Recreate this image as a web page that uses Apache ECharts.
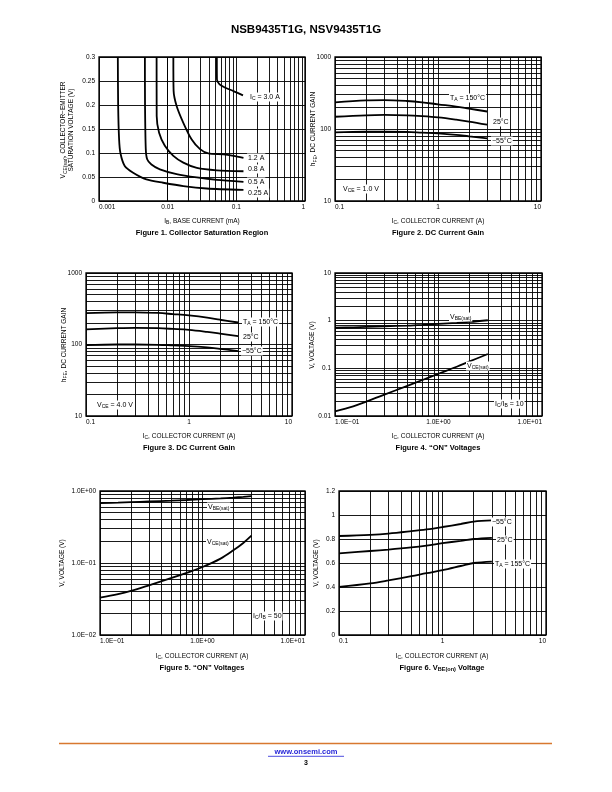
<!DOCTYPE html>
<html><head><meta charset="utf-8">
<script src="https://cdn.jsdelivr.net/npm/echarts@6/dist/echarts.min.js"></script>
<style>html,body{margin:0;padding:0;background:#fff}#c{width:612px;height:792px}</style>
</head><body><div id="c"></div>
<script>
// ---------- Figure 1: Collector Saturation Region (IB mA vs VCE V) ----------
const f1_x_025 = [0.00188, 0.0019, 0.00196, 0.00205, 0.00237, 0.00314, 0.0049, 0.0086, 0.0169, 0.037, 0.127];
const f1_y_025 = [0.3, 0.2, 0.13, 0.1, 0.073, 0.059, 0.045, 0.038, 0.031, 0.026, 0.023];
const f1_x_05 = [0.00466, 0.00468, 0.0048, 0.00503, 0.0058, 0.0077, 0.0135, 0.0266, 0.052, 0.127];
const f1_y_05 = [0.3, 0.2, 0.108, 0.087, 0.076, 0.066, 0.056, 0.049, 0.044, 0.040];
const f1_x_08 = [0.0069, 0.00692, 0.0075, 0.0091, 0.0121, 0.0169, 0.0266, 0.052, 0.127];
const f1_y_08 = [0.3, 0.177, 0.142, 0.115, 0.094, 0.08, 0.069, 0.064, 0.062];
const f1_x_12 = [0.0121, 0.0122, 0.0135, 0.0169, 0.0224, 0.0296, 0.039, 0.065, 0.091, 0.127];
const f1_y_12 = [0.3, 0.23, 0.198, 0.163, 0.128, 0.108, 0.099, 0.097, 0.094, 0.09];
const f1_x_30 = [0.052, 0.0522, 0.057, 0.069, 0.091, 0.125];
const f1_y_30 = [0.3, 0.253, 0.243, 0.236, 0.229, 0.22];
const f1_xticks = ['0.001', '0.01', '0.1', '1'];
const f1_yticks = ['0', '0.05', '0.1', '0.15', '0.2', '0.25', '0.3'];

// ---------- Figure 2: DC Current Gain, VCE = 1.0 V ----------
const f2_ic = [0.1, 0.2, 0.3, 0.5, 0.7, 1, 1.5, 2, 3];
const f2_h150 = [235, 250, 252, 245, 235, 220, 205, 192, 175];
const f2_h25 = [148, 155, 157, 155, 151, 145, 135, 127, 115];
const f2_hm55 = [90, 92, 92, 91, 89, 87, 83, 79, 74];
const f2_xticks = ['0.1', '1', '10'];
const f2_yticks = ['10', '100', '1000'];

// ---------- Figure 3: DC Current Gain, VCE = 4.0 V ----------
const f3_ic = [0.1, 0.2, 0.3, 0.5, 0.7, 1, 1.5, 2, 3];
const f3_h150 = [275, 281, 282, 276, 266, 255, 238, 222, 203];
const f3_h25 = [163, 169, 171, 169, 165, 160, 150, 142, 131];
const f3_hm55 = [98, 100, 100, 99, 97, 95, 91, 87, 81];
const f3_xticks = ['0.1', '1', '10'];
const f3_yticks = ['10', '100', '1000'];

// ---------- Figure 4: "ON" Voltages, IC/IB = 10 ----------
const f4_ic = [0.1, 0.15, 0.2, 0.3, 0.5, 0.7, 1, 1.5, 2, 3];
const f4_vbe = [0.71, 0.725, 0.74, 0.76, 0.79, 0.82, 0.86, 0.9, 0.94, 1.02];
const f4_vce = [0.0125, 0.016, 0.02, 0.028, 0.043, 0.057, 0.077, 0.108, 0.14, 0.2];
const f4_xticks = ['1.0E\u221201', '1.0E+00', '1.0E+01'];
const f4_yticks = ['0.01', '0.1', '1', '10'];

// ---------- Figure 5: "ON" Voltages, IC/IB = 50 ----------
const f5_ic = [0.1, 0.15, 0.2, 0.3, 0.5, 0.7, 1, 1.5, 2, 2.5, 3];
const f5_vbe = [0.68, 0.69, 0.70, 0.715, 0.735, 0.75, 0.77, 0.79, 0.81, 0.83, 0.85];
const f5_vce = [0.033, 0.037, 0.041, 0.049, 0.062, 0.073, 0.088, 0.115, 0.15, 0.19, 0.24];
const f5_xticks = ['1.0E\u221201', '1.0E+00', '1.0E+01'];
const f5_yticks = ['1.0E\u221202', '1.0E\u221201', '1.0E+00'];

// ---------- Figure 6: VBE(on) Voltage ----------
const f6_ic = [0.1, 0.2, 0.3, 0.5, 0.7, 1, 1.5, 2, 3];
const f6_vm55 = [0.825, 0.835, 0.845, 0.865, 0.88, 0.9, 0.925, 0.945, 0.955];
const f6_v25 = [0.68, 0.70, 0.712, 0.73, 0.745, 0.765, 0.785, 0.80, 0.81];
const f6_v155 = [0.40, 0.43, 0.455, 0.49, 0.515, 0.54, 0.575, 0.60, 0.612];
const f6_xticks = ['0.1', '1', '10'];
const f6_yticks = ['0', '0.2', '0.4', '0.6', '0.8', '1', '1.2'];

const minorMult = [2, 3, 4, 5, 6, 7, 8, 9];

// ---------------------------------------------------------------
const FF = '"Liberation Sans", Arial, Helvetica, sans-serif';
const zip = (xs, ys) => xs.map((x, i) => [x, ys[i]]);
const logMinors = (e0, e1) => { const r = []; for (let e = e0; e < e1; e++) minorMult.forEach(m => r.push(+(m * Math.pow(10, e)).toPrecision(6))); return r; };

const grids = [
  { left: 99, top: 57, width: 206, height: 144 },
  { left: 335, top: 57, width: 206, height: 144 },
  { left: 86, top: 273, width: 206, height: 143 },
  { left: 335, top: 273, width: 207, height: 143 },
  { left: 100, top: 491, width: 205, height: 144 },
  { left: 339, top: 491, width: 207, height: 144 }
].map(g => Object.assign({ show: true, borderColor: '#000', borderWidth: 1.3, backgroundColor: 'transparent' }, g));

const gridLine = { show: true, lineStyle: { color: '#000', width: 0.9 } };
const lbl = { color: '#000', fontFamily: FF, fontSize: 6.5 };
function xLog(i, min, max, ticks) {
  const e0 = Math.round(Math.log10(min));
  return { gridIndex: i, type: 'log', logBase: 10, min, max,
    axisLine: { show: false }, axisTick: { show: false }, splitLine: gridLine,
    axisLabel: Object.assign({ margin: 3, alignMinLabel: 'left', alignMaxLabel: 'right',
      formatter: v => ticks[Math.round(Math.log10(v)) - e0] }, lbl) };
}
function yLog(i, min, max, ticks) {
  const e0 = Math.round(Math.log10(min));
  return { gridIndex: i, type: 'log', logBase: 10, min, max,
    axisLine: { show: false }, axisTick: { show: false }, splitLine: gridLine,
    axisLabel: Object.assign({ margin: 4, formatter: v => ticks[Math.round(Math.log10(v)) - e0] }, lbl) };
}
function yLin(i, min, max, interval, ticks) {
  return { gridIndex: i, type: 'value', min, max, interval,
    axisLine: { show: false }, axisTick: { show: false }, splitLine: gridLine,
    axisLabel: Object.assign({ margin: 4, formatter: (v, idx) => ticks[Math.round((v - min) / interval)] }, lbl) };
}

const xAxes = [
  xLog(0, 0.001, 1, f1_xticks),
  xLog(1, 0.1, 10, f2_xticks),
  xLog(2, 0.1, 10, f3_xticks),
  xLog(3, 0.1, 10, f4_xticks),
  xLog(4, 0.1, 10, f5_xticks),
  xLog(5, 0.1, 10, f6_xticks)
];
const yAxes = [
  yLin(0, 0, 0.3, 0.05, f1_yticks),
  yLog(1, 10, 1000, f2_yticks),
  yLog(2, 10, 1000, f3_yticks),
  yLog(3, 0.01, 10, f4_yticks),
  yLog(4, 0.01, 1, f5_yticks),
  yLin(5, 0, 1.2, 0.2, f6_yticks)
];

// minor grid lines (log decades) per grid
const minorX = [logMinors(-3, 0), logMinors(-1, 1), logMinors(-1, 1), logMinors(-1, 1), logMinors(-1, 1), logMinors(-1, 1)];
const minorY = [[], logMinors(1, 3), logMinors(1, 3), logMinors(-2, 1), logMinors(-2, 0), []];

const series = [];
for (let i = 0; i < 6; i++) {
  const d = minorX[i].map(v => ({ xAxis: v })).concat(minorY[i].map(v => ({ yAxis: v })));
  series.push({ type: 'line', xAxisIndex: i, yAxisIndex: i, data: [], z: 1, silent: true,
    markLine: { silent: true, symbol: ['none', 'none'], label: { show: false }, animation: false,
      lineStyle: { color: '#000', width: 0.9, type: 'solid' }, emphasis: { disabled: true }, data: d } });
}
function curve(i, data, smooth) {
  series.push({ type: 'line', xAxisIndex: i, yAxisIndex: i, data, z: 5, silent: true,
    showSymbol: false, symbol: 'none', smooth: smooth === undefined ? 0.35 : smooth,
    lineStyle: { color: '#000', width: 1.8 } });
}
curve(0, zip(f1_x_025, f1_y_025), 0.25);
curve(0, zip(f1_x_05, f1_y_05), 0.25);
curve(0, zip(f1_x_08, f1_y_08), 0.25);
curve(0, zip(f1_x_12, f1_y_12), 0.25);
curve(0, zip(f1_x_30, f1_y_30), 0.25);
curve(1, zip(f2_ic, f2_h150)); curve(1, zip(f2_ic, f2_h25)); curve(1, zip(f2_ic, f2_hm55));
curve(2, zip(f3_ic, f3_h150)); curve(2, zip(f3_ic, f3_h25)); curve(2, zip(f3_ic, f3_hm55));
curve(3, zip(f4_ic, f4_vbe)); curve(3, zip(f4_ic, f4_vce));
curve(4, zip(f5_ic, f5_vbe)); curve(4, zip(f5_ic, f5_vce));
curve(5, zip(f6_ic, f6_vm55)); curve(5, zip(f6_ic, f6_v25)); curve(5, zip(f6_ic, f6_v155));

// ---------- text ----------
const subRich = { s: { fontSize: 5, fontFamily: FF, fill: '#000', verticalAlign: 'bottom', lineHeight: 5 } };
function T(x, y, text, o) {
  o = o || {};
  return { type: 'text', x, y, rotation: o.rot || 0, z: 20, silent: true,
    style: { text, fill: o.color || '#000', fontFamily: FF, fontSize: o.size || 6.5, fontWeight: o.bold ? 'bold' : 'normal',
      align: o.align || 'center', verticalAlign: 'middle', lineHeight: o.lh || 8.5,
      backgroundColor: o.bg ? '#fff' : null, padding: o.bg ? [0, 1, 0, 1] : 0,
      rich: { s: Object.assign({}, subRich.s, o.bold ? { fontWeight: 'bold', fontSize: 5.5 } : {}, o.subSize ? { fontSize: o.subSize } : {}) } } };
}
const R = Math.PI / 2;
const ann = { size: 7, align: 'left', bg: true, lh: 9 };
const graphics = [
  T(306, 30, 'NSB9435T1G, NSV9435T1G', { size: 11.5, bold: true }),
  // Fig 1
  T(63.5, 130, 'V{s|CE(sat)}, COLLECTOR\u2212EMITTER', { rot: R }),
  T(71, 130, 'SATURATION VOLTAGE (V)', { rot: R }),
  T(202, 221, 'I{s|B}, BASE CURRENT (mA)'),
  T(202, 233, 'Figure 1. Collector Saturation Region', { size: 7.5, bold: true }),
  T(249, 97, 'I{s|C} = 3.0 A', ann),
  T(247, 158, '1.2 A', ann),
  T(247, 169, '0.8 A', ann),
  T(247, 182, '0.5 A', ann),
  T(247, 193, '0.25 A', ann),
  // Fig 2
  T(313.5, 129, 'h{s|FE}, DC CURRENT GAIN', { rot: R }),
  T(438, 221, 'I{s|C}, COLLECTOR CURRENT (A)'),
  T(438, 233, 'Figure 2. DC Current Gain', { size: 7.5, bold: true }),
  T(449, 98, 'T{s|A} = 150\u00B0C', ann),
  T(492, 122, '25\u00B0C', ann),
  T(491, 141, '\u221255\u00B0C', ann),
  T(342, 189, 'V{s|CE} = 1.0 V', ann),
  // Fig 3
  T(64, 345, 'h{s|FE}, DC CURRENT GAIN', { rot: R }),
  T(189, 436, 'I{s|C}, COLLECTOR CURRENT (A)'),
  T(189, 448, 'Figure 3. DC Current Gain', { size: 7.5, bold: true }),
  T(242, 322, 'T{s|A} = 150\u00B0C', ann),
  T(242, 337, '25\u00B0C', ann),
  T(241, 351, '\u221255\u00B0C', ann),
  T(96, 405, 'V{s|CE} = 4.0 V', ann),
  // Fig 4
  T(312, 345, 'V, VOLTAGE (V)', { rot: R }),
  T(438, 436, 'I{s|C}, COLLECTOR CURRENT (A)'),
  T(438, 448, 'Figure 4. \u201CON\u201D Voltages', { size: 7.5, bold: true }),
  T(449, 317, 'V{s|BE(sat)}', ann),
  T(466, 366, 'V{s|CE(sat)}', ann),
  T(494, 404, 'I{s|C}/I{s|B} = 10', ann),
  // Fig 5
  T(62, 563, 'V, VOLTAGE (V)', { rot: R }),
  T(202, 656, 'I{s|C}, COLLECTOR CURRENT (A)'),
  T(202, 668, 'Figure 5. \u201CON\u201D Voltages', { size: 7.5, bold: true }),
  T(207, 507, 'V{s|BE(sat)}', ann),
  T(206, 542, 'V{s|CE(sat)}', ann),
  T(252, 616, 'I{s|C}/I{s|B} = 50', ann),
  // Fig 6
  T(316.5, 563, 'V, VOLTAGE (V)', { rot: R }),
  T(442, 656, 'I{s|C}, COLLECTOR CURRENT (A)'),
  T(442, 668, 'Figure 6. V{s|BE(on)} Voltage', { size: 7.5, bold: true }),
  T(491, 522, '\u221255\u00B0C', ann),
  T(496, 540, '25\u00B0C', ann),
  T(494, 564, 'T{s|A} = 155\u00B0C', ann),
  // footer
  { type: 'line', silent: true, shape: { x1: 59, y1: 743.5, x2: 552, y2: 743.5 }, style: { stroke: '#D8782F', lineWidth: 1.7 } },
  T(306, 752, 'www.onsemi.com', { size: 7.5, bold: true, color: '#1f1fd6' }),
  { type: 'line', silent: true, shape: { x1: 268, y1: 756.3, x2: 344, y2: 756.3 }, style: { stroke: '#1f1fd6', lineWidth: 0.8 } },
  T(306, 763, '3', { size: 7, bold: true })
];

const chart = echarts.init(document.getElementById('c'), null, { renderer: 'canvas' });
chart.setOption({
  animation: false,
  backgroundColor: '#fff',
  grid: grids,
  xAxis: xAxes,
  yAxis: yAxes,
  series,
  graphic: graphics
});
</script></body></html>
